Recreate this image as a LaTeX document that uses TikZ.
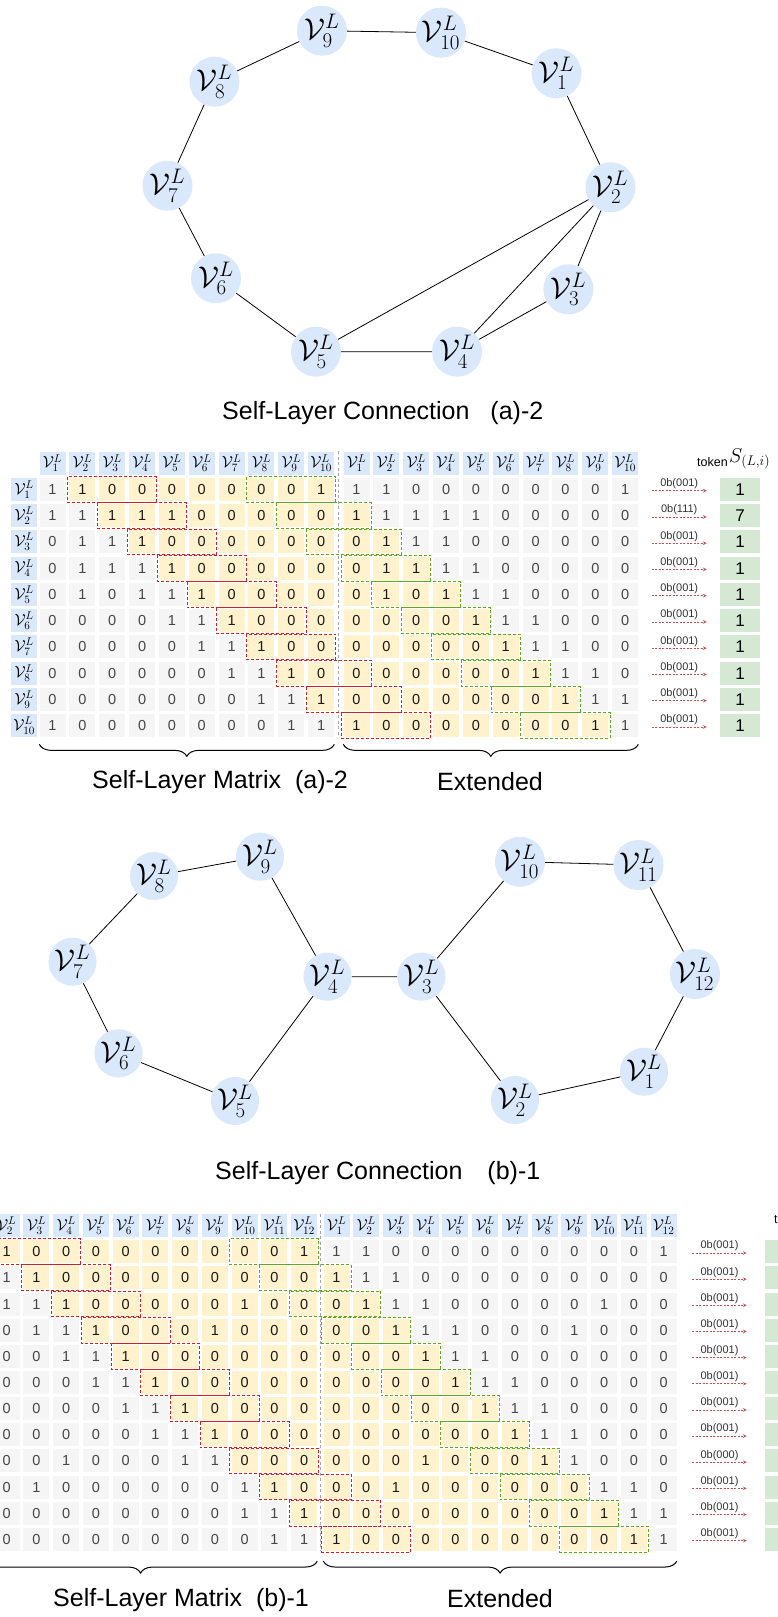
\RequirePackage{fix-cm}
\documentclass[tikz,border=0pt]{standalone}
\usepackage{amsmath,amssymb}
\usepackage{fontspec}
\setmainfont{Liberation Sans}
\usepackage{pgf,tikz}
\usetikzlibrary{arrows,calc}
\usetikzlibrary{decorations.pathreplacing}
\usetikzlibrary{positioning}

\definecolor{vtxblue}{RGB}{218,232,252}
\definecolor{cellgray}{RGB}{245,245,245}
\definecolor{cellyellow}{RGB}{255,242,204}
\definecolor{tokgreen}{RGB}{213,232,212}
\definecolor{boxred}{RGB}{215,30,30}
\definecolor{boxgreen}{RGB}{96,169,23}
\definecolor{arrowred}{RGB}{196,80,80}
\definecolor{numgray}{RGB}{70,70,70}

\newcommand{\vtx}[1]{$\mathcal{V}^{L}_{#1}$}

\begin{document}
\begin{tikzpicture}[x=1pt,y=-1pt]

\tikzset{
  % graph vertices
  vert/.style={circle, fill=vtxblue, inner sep=0pt, minimum size=#1,
    font=\fontsize{30}{30}\selectfont},
  vert/.default=50pt,
  edge/.style={draw=black, line width=0.8pt},
  % matrix cells
  cell/.style={anchor=north west, inner sep=0pt, minimum width=26pt,
    minimum height=23pt, font=\fontsize{14.5}{14.5}\selectfont},
  grycell/.style={cell, fill=cellgray, text=numgray},
  yelcell/.style={cell, fill=cellyellow, text=black!90},
  hdcell/.style={cell, fill=vtxblue, font=\fontsize{16}{16}\selectfont},
  tokcell/.style={cell, fill=tokgreen, minimum width=40pt,
    font=\fontsize{17}{17}\selectfont},
  % dashed frames
  redbox/.style={draw=boxred, dash pattern=on 3pt off 2pt, line width=1pt},
  grnbox/.style={draw=boxgreen, dash pattern=on 3pt off 2pt, line width=1pt},
  sepline/.style={draw=gray!70, dash pattern=on 3pt off 2.5pt, line width=0.8pt},
  tokarrow/.style={draw=arrowred, dash pattern=on 2pt off 1.5pt,
    line width=0.7pt, -stealth},
  bitlabel/.style={font=\fontsize{11}{11}\selectfont, text=black!80, inner sep=1pt},
  under/.style={decorate, decoration={brace, mirror, amplitude=12pt},
    line width=1pt},
  caption/.style={font=\fontsize{25}{25}\selectfont, inner sep=0pt},
}

\useasboundingbox (0,0) rectangle (778,1617);
\clip (0,0) rectangle (778,1617);

% ---------- graph (a)-2
\node[vert] (a9) at (322,30.7) {\vtx{9}};
\node[vert] (a10) at (441,32.7) {\vtx{10}};
\node[vert] (a1) at (556.5,73.3) {\vtx{1}};
\node[vert] (a8) at (214.5,81.7) {\vtx{8}};
\node[vert] (a7) at (167.5,185.7) {\vtx{7}};
\node[vert] (a2) at (610.5,187.3) {\vtx{2}};
\node[vert] (a6) at (216,278.3) {\vtx{6}};
\node[vert] (a3) at (568.4,289.3) {\vtx{3}};
\node[vert] (a5) at (316,351.7) {\vtx{5}};
\node[vert] (a4) at (457.1,351.7) {\vtx{4}};

\draw[edge] (a9) -- (a10) -- (a1) -- (a2) -- (a3) -- (a4) -- (a5) -- (a6)
  -- (a7) -- (a8) -- (a9);
\draw[edge] (a2) -- (a5) (a2) -- (a4);

\node[caption, anchor=west] (capga) at (222,413)
  {Self-Layer Connection\hspace{14pt} (a)-2};

% ---------- matrix (a)-2
\foreach \c in {1,...,10}{
  \node[hdcell] (ha-\c) at ({39.3+(\c-1)*29.85},451.4) {\vtx{\c}};
  \node[hdcell] (hae-\c) at ({343.3+(\c-1)*29.85},451.4) {\vtx{\c}};
  \node[hdcell] (ra-\c) at (11,{477.7+(\c-1)*26.25}) {\vtx{\c}};
}

\foreach \i/\vals [evaluate=\i as \yy using 477.7+(\i-1)*26.25] in
  {1/{1,1,0,0,0,0,0,0,0,1}, 2/{1,1,1,1,1,0,0,0,0,0},
   3/{0,1,1,1,0,0,0,0,0,0}, 4/{0,1,1,1,1,0,0,0,0,0},
   5/{0,1,0,1,1,1,0,0,0,0}, 6/{0,0,0,0,1,1,1,0,0,0},
   7/{0,0,0,0,0,1,1,1,0,0}, 8/{0,0,0,0,0,0,1,1,1,0},
   9/{0,0,0,0,0,0,0,1,1,1}, 10/{1,0,0,0,0,0,0,0,1,1}}{
  \foreach \v [count=\c] in \vals {
    \foreach \k in {0,1}{
      \pgfmathtruncatemacro\cc{\c+10*\k}
      \pgfmathsetmacro\xx{(\k==0 ? 39.3 : 343.3)+(\c-1)*29.85}
      \pgfmathtruncatemacro\hl{(\cc>\i)&&(\cc<\i+10)}
      \ifnum\hl=1
        \node[yelcell] (ma-\i-\cc) at (\xx,\yy) {\v};
      \else
        \node[grycell] (ma-\i-\cc) at (\xx,\yy) {\v};
      \fi
    }
  }
}

\draw[sepline] (338.8,451.4) -- (338.8,737);

\foreach \i in {1,...,10}{
  \pgfmathtruncatemacro\ra{\i+1}
  \pgfmathtruncatemacro\rb{\i+3}
  \pgfmathtruncatemacro\ga{\i+7}
  \pgfmathtruncatemacro\gb{\i+9}
  \draw[redbox] ([shift={(-1.5,-1.2)}]ma-\i-\ra.north west)
    rectangle ([shift={(1.5,1.2)}]ma-\i-\rb.south east);
  \draw[grnbox] ([shift={(-1.5,-1.2)}]ma-\i-\ga.north west)
    rectangle ([shift={(1.5,1.2)}]ma-\i-\gb.south east);
}

% tokens (a)-2
\node[font=\fontsize{12.5}{12.5}\selectfont, anchor=west, inner sep=0pt]
  (toka) at (697,462) {token};
\node[font=\fontsize{20}{20}\selectfont, anchor=west, inner sep=0pt]
  (Sa) at (729,459) {$S_{(L,i)}$};
\foreach \i/\bits/\tok in {1/001/1, 2/111/7, 3/001/1, 4/001/1, 5/001/1,
    6/001/1, 7/001/1, 8/001/1, 9/001/1, 10/001/1}{
  \pgfmathsetmacro\yc{477.7+(\i-1)*26.25+11.5}
  \coordinate (aas-\i) at (651.7,{\yc+1.5});
  \coordinate (aae-\i) at (706.7,{\yc+1.5});
  \draw[tokarrow] (aas-\i) -- node[bitlabel, above=0.5pt] {0b(\bits)} (aae-\i);
  \node[tokcell] (ta-\i) at (720,{\yc-11.5}) {\tok};
}

\draw[under] ([yshift=-7pt]ma-10-1.south west) -- ([yshift=-7pt]ma-10-10.south east);
\draw[under] ([yshift=-7pt]ma-10-11.south west) -- ([yshift=-7pt]ma-10-20.south east);
\node[caption, anchor=west] (capma) at (92,782) {Self-Layer Matrix\hspace{7pt} (a)-2};
\node[caption] (capea) at (490,782) {Extended};

% ---------- graph (b)-1
\node[vert=47pt] (b9) at (260,856.7) {\vtx{9}};
\node[vert=47pt] (b8) at (154,876) {\vtx{8}};
\node[vert=47pt] (b7) at (72.5,961.7) {\vtx{7}};
\node[vert=47pt] (b6) at (118.5,1053.3) {\vtx{6}};
\node[vert=47pt] (b5) at (235,1101) {\vtx{5}};
\node[vert=47pt] (b4) at (327.5,976.7) {\vtx{4}};
\node[vert=47pt] (b3) at (421.5,976.7) {\vtx{3}};
\node[vert=47pt] (b10) at (520,861.7) {\vtx{10}};
\node[vert=47pt] (b11) at (638.5,865) {\vtx{11}};
\node[vert=47pt] (b12) at (695,974) {\vtx{12}};
\node[vert=47pt] (b1) at (644,1071.7) {\vtx{1}};
\node[vert=47pt] (b2) at (515,1100) {\vtx{2}};

\draw[edge] (b4) -- (b9) -- (b8) -- (b7) -- (b6) -- (b5) -- (b4) -- (b3);
\draw[edge] (b3) -- (b10) -- (b11) -- (b12) -- (b1) -- (b2) -- (b3);

\node[caption, anchor=west] (capgb) at (215,1173)
  {Self-Layer Connection\hspace{18pt} (b)-1};

% ---------- matrix (b)-1
\foreach \c in {1,...,12}{
  \node[hdcell] (hb-\c) at ({-36.2+(\c-1)*29.74},1214) {\vtx{\c}};
  \node[hdcell] (hbe-\c) at ({323.3+(\c-1)*29.74},1214) {\vtx{\c}};
}

\foreach \i/\vals [evaluate=\i as \yy using 1240+(\i-1)*26.15] in
  {1/{1,1,0,0,0,0,0,0,0,0,0,1}, 2/{1,1,1,0,0,0,0,0,0,0,0,0},
   3/{0,1,1,1,0,0,0,0,0,1,0,0}, 4/{0,0,1,1,1,0,0,0,1,0,0,0},
   5/{0,0,0,1,1,1,0,0,0,0,0,0}, 6/{0,0,0,0,1,1,1,0,0,0,0,0},
   7/{0,0,0,0,0,1,1,1,0,0,0,0}, 8/{0,0,0,0,0,0,1,1,1,0,0,0},
   9/{0,0,0,1,0,0,0,1,1,0,0,0}, 10/{0,0,1,0,0,0,0,0,0,1,1,0},
   11/{0,0,0,0,0,0,0,0,0,1,1,1}, 12/{1,0,0,0,0,0,0,0,0,0,1,1}}{
  \foreach \v [count=\c] in \vals {
    \foreach \k in {0,1}{
      \pgfmathtruncatemacro\cc{\c+12*\k}
      \pgfmathsetmacro\xx{(\k==0 ? -36.2 : 323.3)+(\c-1)*29.74}
      \pgfmathtruncatemacro\hl{(\cc>\i)&&(\cc<\i+12)}
      \ifnum\hl=1
        \node[yelcell] (mb-\i-\cc) at (\xx,\yy) {\v};
      \else
        \node[grycell] (mb-\i-\cc) at (\xx,\yy) {\v};
      \fi
    }
  }
}

\draw[sepline] (320,1214) -- (320,1551);

\foreach \i in {1,...,12}{
  \pgfmathtruncatemacro\ra{\i+1}
  \pgfmathtruncatemacro\rb{\i+3}
  \pgfmathtruncatemacro\ga{\i+9}
  \pgfmathtruncatemacro\gb{\i+11}
  \draw[redbox] ([shift={(-1.5,-1.2)}]mb-\i-\ra.north west)
    rectangle ([shift={(1.5,1.2)}]mb-\i-\rb.south east);
  \draw[grnbox] ([shift={(-1.5,-1.2)}]mb-\i-\ga.north west)
    rectangle ([shift={(1.5,1.2)}]mb-\i-\gb.south east);
}

% tokens (b)-1
\node[font=\fontsize{12.5}{12.5}\selectfont, anchor=west, inner sep=0pt]
  (tokb) at (774,1219) {token};
\foreach \i/\bits in {1/001, 2/001, 3/001, 4/001, 5/001, 6/001, 7/001,
    8/001, 9/000, 10/001, 11/001, 12/001}{
  \pgfmathsetmacro\yc{1240+(\i-1)*26.15+11.5}
  \coordinate (bas-\i) at (692.3,{\yc+1.5});
  \coordinate (bae-\i) at (746.7,{\yc+1.5});
  \draw[tokarrow] (bas-\i) -- node[bitlabel, above=0.5pt] {0b(\bits)} (bae-\i);
  \node[tokcell] (tb-\i) at (764.3,{\yc-11.5}) {};
}

\draw[under] ([yshift=-10pt]mb-12-1.south west) -- ([yshift=-10pt]mb-12-12.south east);
\draw[under] ([yshift=-10pt]mb-12-13.south west) -- ([yshift=-10pt]mb-12-24.south east);
\node[caption, anchor=west] (capmb) at (53,1600) {Self-Layer Matrix\hspace{7pt} (b)-1};
\node[caption] (capeb) at (500,1599) {Extended};

\end{tikzpicture}
\end{document}
